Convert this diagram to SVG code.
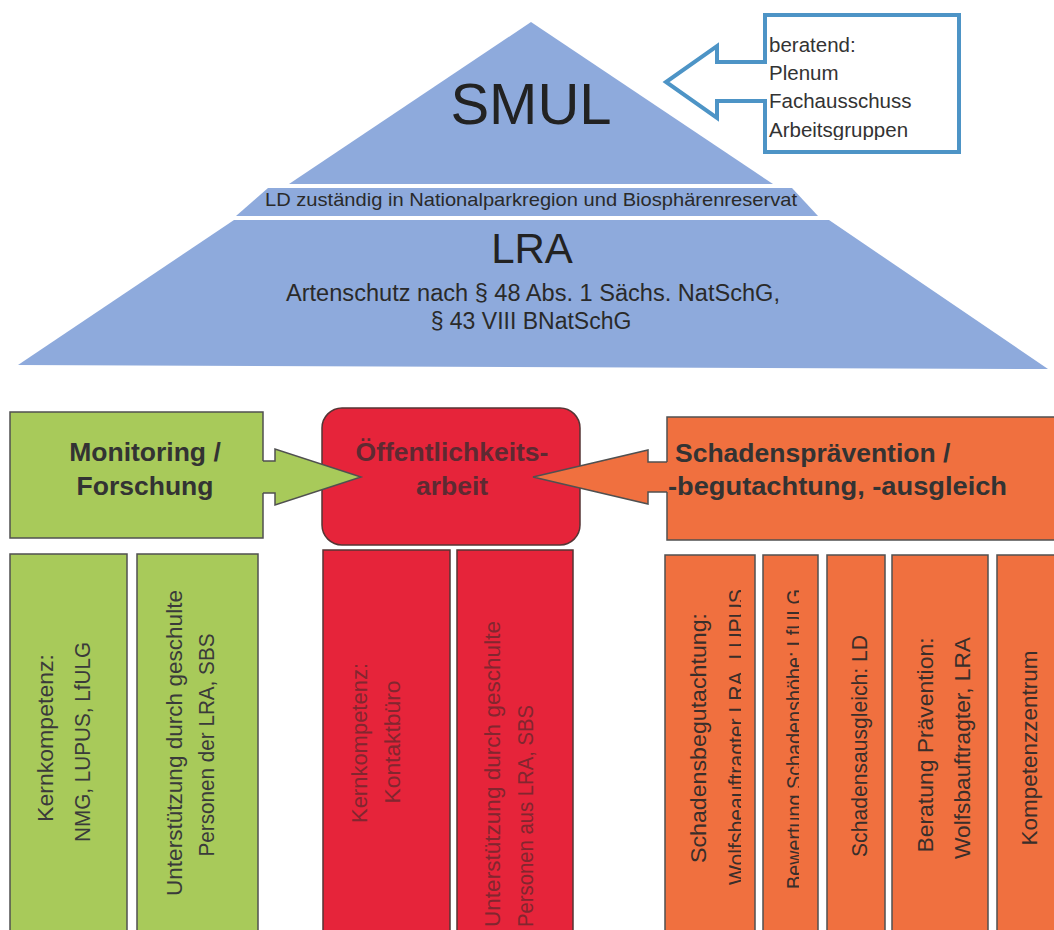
<svg xmlns="http://www.w3.org/2000/svg" width="1054" height="930" viewBox="0 0 1054 930">
<style>
.pyr{fill:#8eaadc}
.t{font-family:"Liberation Sans",Arial,sans-serif}
.hd{font-family:"Liberation Sans",Arial,sans-serif;font-weight:bold;font-size:26.5px;fill:#333}
.col{font-family:"Liberation Sans",Arial,sans-serif;font-size:21.5px}
.gbox{fill:#a8ca5a;stroke:#505050;stroke-width:1.5}
.rbox{fill:#e6243a;stroke:#553535;stroke-width:1.5}
.obox{fill:#f0703f;stroke:#505050;stroke-width:1.5}
.gt{fill:#3a3a3a}
.rt{fill:#82262f}
.ot{fill:#3a2e2a}
</style>
<defs>
<clipPath id="clipBer"><rect x="760" y="10" width="200" height="130"/></clipPath>
<clipPath id="clipO1"><rect x="660" y="540" width="81" height="400"/></clipPath>
<clipPath id="clipO2"><rect x="760" y="540" width="39" height="400"/></clipPath>
</defs>
<rect width="1054" height="930" fill="#ffffff"/>

<g id="pyramid-smul">
<polygon class="pyr" points="531,22 289,184 773,184"/>
<text class="t" x="531" y="124" font-size="58" text-anchor="middle" fill="#222">SMUL</text>
</g>
<g id="pyramid-ld">
<polygon class="pyr" points="268,188 792,188 818,216 236,216"/>
<text class="t" x="265" y="206" font-size="19" textLength="532" lengthAdjust="spacingAndGlyphs" fill="#2a2a2a">LD zuständig in Nationalparkregion und Biosphärenreservat</text>
</g>
<g id="pyramid-lra">
<polygon class="pyr" points="234,220 829,220 1048,369 18,365"/>
<text class="t" x="532" y="263" font-size="42" text-anchor="middle" fill="#222">LRA</text>
<text class="t" x="533" y="301" font-size="23" text-anchor="middle" textLength="494" lengthAdjust="spacingAndGlyphs" fill="#2a2a2a">Artenschutz nach § 48 Abs. 1 Sächs. NatSchG,</text>
<text class="t" x="531" y="329" font-size="23" text-anchor="middle" fill="#2a2a2a">§ 43 VIII BNatSchG</text>
</g>

<g id="beratend">
<path d="M765,62 L765,15 L959,15 L959,152 L765,152 L765,101 L717,101 L717,118 L666,82 L717,46 L717,62 Z" fill="#ffffff" stroke="#4d94c6" stroke-width="4" stroke-linejoin="miter"/>
<g clip-path="url(#clipBer)" class="t" font-size="20.5" fill="#333">
<text x="769" y="52">beratend:</text>
<text x="769" y="80">Plenum</text>
<text x="769" y="108">Fachausschuss</text>
<text x="769" y="137">Arbeitsgruppen</text>
</g>
</g>

<g id="monitoring">
<rect class="gbox" x="10" y="412" width="253" height="126"/>
<text class="hd" x="145" y="461" text-anchor="middle">Monitoring /</text>
<text class="hd" x="145" y="495" text-anchor="middle">Forschung</text>
</g>

<g id="oeffentlichkeit">
<rect class="rbox" x="322" y="408" width="258" height="137" rx="20" ry="20"/>
<text class="hd" x="452" y="461" text-anchor="middle" style="fill:#5e2a32">Öffentlichkeits-</text>
<text class="hd" x="452" y="495" text-anchor="middle" style="fill:#5e2a32">arbeit</text>
</g>

<g id="schadenspraevention">
<rect class="obox" x="667" y="417" width="400" height="123"/>
<text class="hd" x="675" y="462">Schadensprävention /</text>
<text class="hd" x="668" y="495" textLength="339" lengthAdjust="spacingAndGlyphs">-begutachtung, -ausgleich</text>
</g>

<g id="green-col-1">
<rect class="gbox" x="10" y="554" width="117" height="390"/>
<text class="col gt" transform="translate(53,738) rotate(-90)" text-anchor="middle" textLength="168" lengthAdjust="spacingAndGlyphs">Kernkompetenz:</text>
<text class="col gt" transform="translate(90,742) rotate(-90)" text-anchor="middle" textLength="200" lengthAdjust="spacingAndGlyphs">NMG, LUPUS, LfULG</text>
</g>
<g id="green-col-2">
<rect class="gbox" x="137" y="554" width="121" height="390"/>
<text class="col gt" transform="translate(182,743) rotate(-90)" text-anchor="middle" textLength="306" lengthAdjust="spacingAndGlyphs">Unterstützung durch geschulte</text>
<text class="col gt" transform="translate(214,745) rotate(-90)" text-anchor="middle" textLength="223" lengthAdjust="spacingAndGlyphs">Personen der LRA, SBS</text>
</g>

<g id="red-col-1">
<rect class="rbox" x="323" y="550" width="127" height="394"/>
<text class="col rt" transform="translate(367,743) rotate(-90)" text-anchor="middle" textLength="160" lengthAdjust="spacingAndGlyphs">Kernkompetenz:</text>
<text class="col rt" transform="translate(400,742) rotate(-90)" text-anchor="middle" textLength="123" lengthAdjust="spacingAndGlyphs">Kontaktbüro</text>
</g>
<g id="red-col-2">
<rect class="rbox" x="457" y="550" width="116" height="394"/>
<text class="col rt" transform="translate(500,927) rotate(-90)" textLength="306" lengthAdjust="spacingAndGlyphs">Unterstützung durch geschulte</text>
<text class="col rt" transform="translate(533,927) rotate(-90)" textLength="222" lengthAdjust="spacingAndGlyphs">Personen aus LRA, SBS</text>
</g>

<g id="orange-col-1">
<rect class="obox" x="665" y="555" width="90" height="390"/>
<text class="col ot" transform="translate(706,738) rotate(-90)" text-anchor="middle" textLength="250" lengthAdjust="spacingAndGlyphs">Schadensbegutachtung:</text>
<g clip-path="url(#clipO1)">
<text class="col ot" transform="translate(744,737) rotate(-90)" text-anchor="middle" textLength="296" lengthAdjust="spacingAndGlyphs">Wolfsbeauftragter LRA, LUPUS</text>
</g>
</g>
<g id="orange-col-2">
<rect class="obox" x="763" y="555" width="55" height="390"/>
<g clip-path="url(#clipO2)">
<text class="col ot" transform="translate(802,739) rotate(-90)" text-anchor="middle" textLength="300" lengthAdjust="spacingAndGlyphs">Bewertung Schadenshöhe: LfULG</text>
</g>
</g>
<g id="orange-col-3">
<rect class="obox" x="827" y="555" width="58" height="390"/>
<text class="col ot" transform="translate(867,746) rotate(-90)" text-anchor="middle" textLength="222" lengthAdjust="spacingAndGlyphs">Schadensausgleich: LD</text>
</g>
<g id="orange-col-4">
<rect class="obox" x="892" y="555" width="96" height="390"/>
<text class="col ot" transform="translate(933,745) rotate(-90)" text-anchor="middle" textLength="215" lengthAdjust="spacingAndGlyphs">Beratung Prävention:</text>
<text class="col ot" transform="translate(970,748) rotate(-90)" text-anchor="middle" textLength="222" lengthAdjust="spacingAndGlyphs">Wolfsbauftragter, LRA</text>
</g>
<g id="orange-col-5">
<rect class="obox" x="997" y="555" width="70" height="390"/>
<text class="col ot" transform="translate(1037,748) rotate(-90)" text-anchor="middle" textLength="195" lengthAdjust="spacingAndGlyphs">Kompetenzzentrum</text>
</g>

<g id="connectors">
<polygon points="262,461 275,461 275,449 361,477 275,505 275,493 262,493" fill="#a8ca5a"/>
<polyline points="263,461 275,461 275,449 361,477 275,505 275,493 263,493" fill="none" stroke="#505050" stroke-width="1.5" stroke-linejoin="miter"/>
<polygon points="668,462 648,462 648,450 533,477 648,504 648,492 668,492" fill="#f0703f"/>
<polyline points="667,462 648,462 648,450 533,477 648,504 648,492 667,492" fill="none" stroke="#505050" stroke-width="1.5" stroke-linejoin="miter"/>
</g>
</svg>
